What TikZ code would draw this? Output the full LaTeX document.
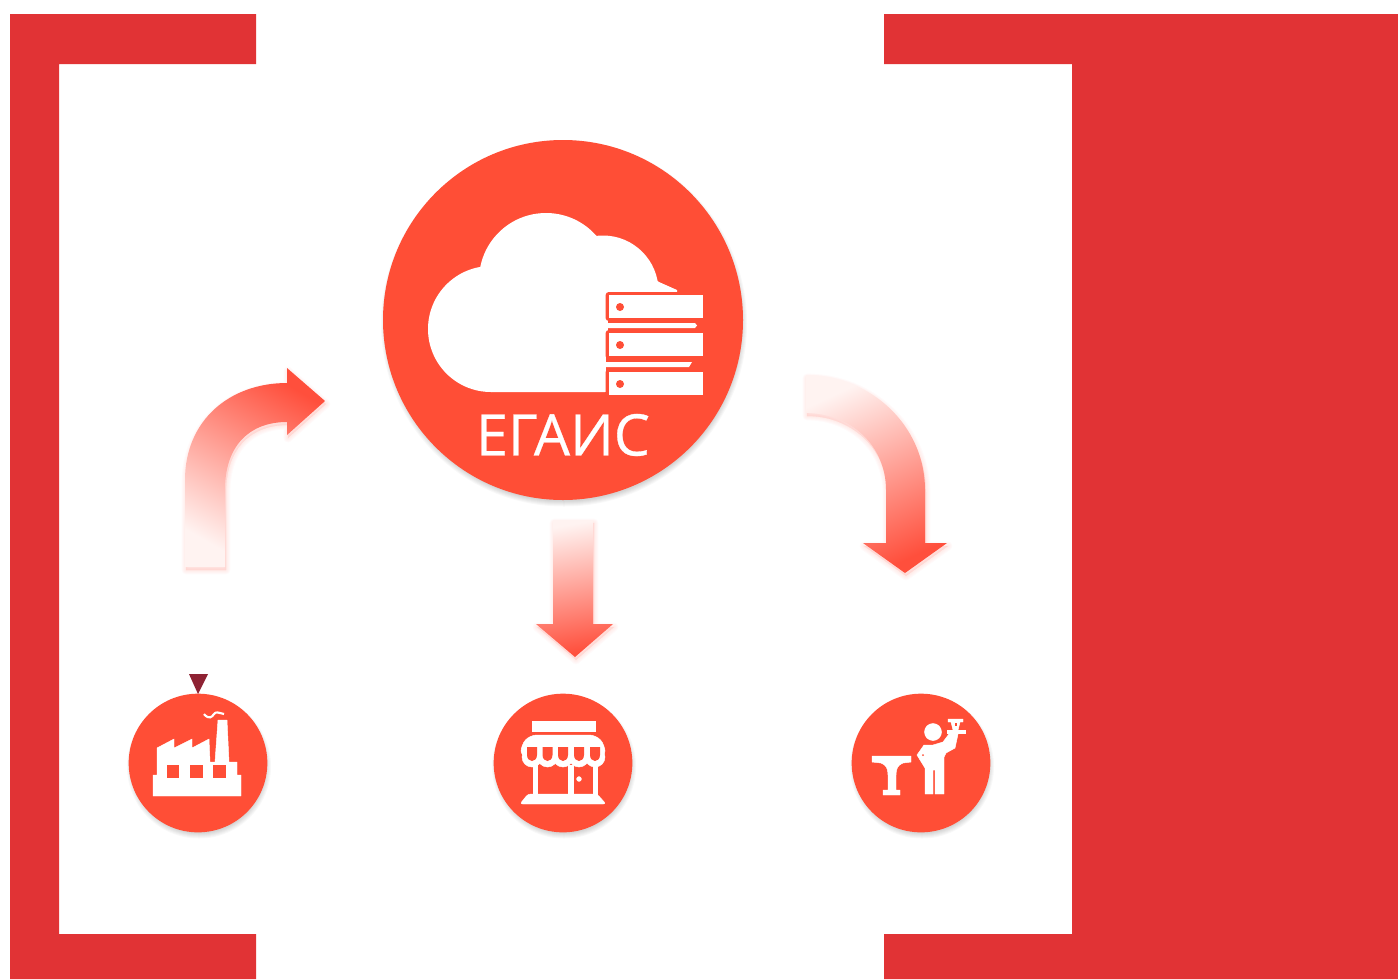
\documentclass[tikz,border=0pt]{standalone}
\usepackage{fontspec}
\newfontfamily\labelfont[FakeBold=0.5]{Open Sans}
\definecolor{framered}{HTML}{E13335}
\definecolor{disc}{HTML}{FF4E36}
\definecolor{pale}{HTML}{FFF3F1}
\definecolor{strong}{HTML}{FF4F3C}
\definecolor{markred}{HTML}{8E2233}
\def\arrowA{(185,567)--(185,480) .. controls (185,420) and (230,383) .. (287,383) -- (287,368) -- (325,401) -- (287,435) -- (287,422) .. controls (250,422) and (225,445) .. (225,490) -- (225,567) -- cycle}
\def\arrowB{(553,520) -- (593,520) -- (593,624) -- (613,624) -- (575,657) -- (536,624) -- (553,624) -- cycle}
\def\arrowC{(806,375) .. controls (870,375) and (925,425) .. (925,490) -- (925,543) -- (947,543) -- (905,573) -- (863,543) -- (886,543) -- (886,490) .. controls (886,445) and (850,413) .. (806,413) -- cycle}
\tikzset{
  bigdisc/.style={circle,fill=disc,minimum size=270pt,inner sep=0pt},
  smalldisc/.style={circle,fill=disc,minimum size=104pt,inner sep=0pt},
  soft/.style={draw=#1,fill=#1,opacity=0.022,line join=round},
  icon/.style={fill=white,draw=white,line width=0.35pt},
  cloudpart/.style={fill=white,draw=none},
  hole/.style={fill=disc,draw=none},
  title/.style={text=white,font=\labelfont\fontsize{43}{43}\selectfont,inner sep=0pt}
}
\newcommand{\softshadow}[2]{%
  \foreach \w in {0.5,2,3.5,5,6.5}{\path[soft=#2,line width=\w pt,shift={(1,3)}] #1;}}
\newcommand{\discshadow}[2]{%
  \foreach \w in {-2,-1,0,1,2,3}{\fill[black,opacity=0.028,shift={(1,3.5)}] #1 circle ({#2+\w});}}
\begin{document}
\begin{tikzpicture}[x=0.75pt,y=-0.75pt]
\useasboundingbox (0,0) rectangle (1398,979);
\fill[white] (0,0) rectangle (1398,979);
% frame
\fill[framered] (10,14) -- (256,14) -- (256,64) -- (59,64) -- (59,934) -- (256,934) -- (256,979) -- (10,979) -- cycle;
\fill[framered] (884,14) -- (1398,14) -- (1398,979) -- (884,979) -- (884,934) -- (1072,934) -- (1072,64) -- (884,64) -- cycle;
% shadows
\discshadow{(563,320)}{180}
\discshadow{(198,763)}{69}
\discshadow{(563,763)}{69}
\discshadow{(921,763)}{69}
% discs
\node[bigdisc] (ega) at (563,320) {};
\node[smalldisc] (factory) at (198,763) {};
\node[smalldisc] (shop) at (563,763) {};
\node[smalldisc] (bar) at (921,763) {};
% arrows
\softshadow{\arrowA}{strong}
\softshadow{\arrowB}{strong}
\softshadow{\arrowC}{strong}
\shade[bottom color=pale,middle color=strong!52!white,top color=strong,shading angle=-30] \arrowA;
\shade[top color=pale,middle color=strong!50!white,bottom color=strong,shading angle=10] \arrowB;
\shade[top color=pale,middle color=strong!45!white,bottom color=strong,shading angle=25] \arrowC;
% cloud
\fill[cloudpart] (491,329) circle (63);
\fill[cloudpart] (546,280) circle (67);
\fill[cloudpart] (603,291) circle (55.5);
\fill[cloudpart] (491,392) -- (605,392) -- (605,300) -- (677,300) -- (677,290) -- (659,282) -- (600,240) -- (491,270) -- cycle;
\fill[disc] (608,292) rectangle (708,398);
\fill[cloudpart] (600,292) rectangle (606,392);
\foreach \y in {292,330,369}{
  \fill[disc,rounded corners=2.5pt] (605.5,\y) rectangle (708,{\y+29});
  \fill[cloudpart] (609,{\y+3}) rectangle (703,{\y+26});
  \fill[hole] (620,{\y+15}) circle (4);
}
\fill[cloudpart] (604,323) -- (695,323) -- (697,325.5) -- (695,328) -- (604,328) -- cycle;
\fill[cloudpart] (604,362) -- (692,362) -- (689,367) -- (604,367) -- cycle;
\node[title] (label) at (563,435) {ЕГАИС};
% marker
\fill[markred] (189,674) -- (208,674) -- (198,694) -- cycle;
% factory
\fill[icon] (153,796) -- (241,796) -- (241,775) -- (237,775) -- (237,762) -- (229,762) -- (227,720) -- (218,720) -- (215,762) -- (210,762) -- (209,739) -- (192,748) -- (192,739) -- (174,748) -- (174,739) -- (157,748) -- (157,775) -- (153,775) -- cycle;
\fill[hole] (167,765) rectangle (179,778);
\fill[hole] (190,765) rectangle (203,778);
\fill[hole] (213,765) rectangle (226,778);
\draw[white,line width=1.6pt] (204,714) .. controls (209,720) and (212,717) .. (214,714) .. controls (216,711) and (219,713) .. (224,714);
% shop
\fill[icon] (532,721) rectangle (595,731);
\fill[icon,rounded corners=5pt] (521,757) -- (521,745) -- (530,735) -- (596,735) -- (605,745) -- (605,757) -- cycle;
\foreach \x in {532,547.5,563,579,595}{
  \fill[icon] (\x,757) circle (10);
  \fill[hole] ({\x-5},747) -- ({\x+5},747) -- ({\x+5},755) .. controls ({\x+5},759) and ({\x+2},761) .. (\x,761) .. controls ({\x-2},761) and ({\x-5},759) .. ({\x-5},755) -- cycle;
}
\fill[icon] (533,765) rectangle (537,797);
\fill[icon] (568,765) rectangle (573,797);
\fill[icon] (593,765) rectangle (597,797);
\fill[icon] (579,779) circle (2.4);
\fill[icon,rounded corners=2pt] (528,794) -- (597,794) -- (606,804) -- (520,804) -- cycle;
% bar
\fill[icon] (872,756) -- (911,756) -- (911,762) -- (903,763) .. controls (898,765) and (896,768) .. (896,775) -- (896,790) -- (900,790) -- (900,795) -- (883,795) -- (883,790) -- (888,790) -- (888,775) .. controls (888,768) and (886,765) .. (881,763) -- (872,762) -- cycle;
\fill[icon] (933,732) circle (8.5);
\fill[icon] (924,745) -- (933,745) -- (943,742) -- (949,734) -- (958,734) -- (955,748) -- (946,753) -- (944,757) -- (944,794) -- (935,794) -- (935,770) -- (933,770) -- (933,794) -- (925,794) -- (925,768) -- (917,755) -- cycle;
\fill[hole] (923,755) circle (1);
\fill[icon] (947,730) rectangle (965,733);
\fill[icon] (948,719) -- (963,719) -- (963,722) -- (960,722) -- (958,730) -- (953,730) -- (951,722) -- (948,722) -- cycle;
\fill[hole] (954.5,723) rectangle (956.5,726);
\end{tikzpicture}
\end{document}
